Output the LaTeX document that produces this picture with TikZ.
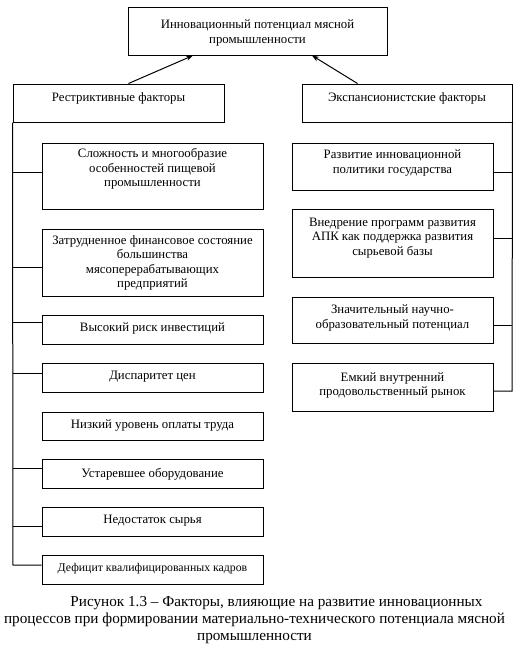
\documentclass[tikz,border=0pt]{standalone}
\usepackage{fontspec}
\setmainfont{Liberation Serif}
\usetikzlibrary{arrows.meta,calc}
\begin{document}
\begin{tikzpicture}[x=1pt,y=-1pt,
  box/.style={draw=black,line width=1pt,inner sep=0pt,rectangle},
  txt/.style={align=center,inner sep=0pt,font=\fontsize{12.8}{14.4}\selectfont},
  link/.style={draw=black,line width=1pt},
  arr/.style={draw=black,line width=1pt,-{Stealth[length=7pt,width=5pt]}}]
\useasboundingbox (0,0) rectangle (521,649);
% top
\node[box,minimum width=259,minimum height=48] (top) at (257.5,31) {};
\node[txt] (topt) at (257.5,33) {Инновационный потенциал мясной\\промышленности};
% second level
\node[box,minimum width=211,minimum height=38] (restr) at (118.5,103) {};
\node[txt] (restrt) at (118.5,98) {Рестриктивные факторы};
\node[box,minimum width=210,minimum height=38] (expan) at (407,103) {};
\node[txt] (expant) at (407,98) {Экспансионистские факторы};
% left column
\node[box,minimum width=221,minimum height=66] (l1) at (152.5,176) {};
\node[txt] (l1t) at (152.5,169) {Сложность и многообразие\\особенностей пищевой\\промышленности};
\node[box,minimum width=221,minimum height=67] (l2) at (152.5,262.5) {};
\node[txt] (l2t) at (152.5,263) {Затрудненное финансовое состояние\\большинства\\мясоперерабатывающих\\предприятий};
\node[box,minimum width=221,minimum height=29] (l3) at (152.5,329.5) {};
\node[txt] (l3t) at (152.5,328) {Высокий риск инвестиций};
\node[box,minimum width=221,minimum height=29] (l4) at (152.5,377.5) {};
\node[txt] (l4t) at (152.5,377) {Диспаритет цен};
\node[box,minimum width=221,minimum height=28] (l5) at (152.5,426) {};
\node[txt] (l5t) at (152.5,425) {Низкий уровень оплаты труда};
\node[box,minimum width=221,minimum height=29] (l6) at (152.5,473.5) {};
\node[txt] (l6t) at (152.5,474) {Устаревшее оборудование};
\node[box,minimum width=221,minimum height=29] (l7) at (152.5,521.5) {};
\node[txt] (l7t) at (152.5,521) {Недостаток сырья};
\node[box,minimum width=221,minimum height=29] (l8) at (152.5,569.5) {};
\node[txt,font=\fontsize{11.8}{13}\selectfont] (l8t) at (152.5,569) {Дефицит квалифицированных кадров};
% right column
\node[box,minimum width=201,minimum height=47] (r1) at (392.5,166.5) {};
\node[txt] (r1t) at (392.5,163) {Развитие инновационной\\политики государства};
\node[box,minimum width=201,minimum height=68] (r2) at (392.5,243) {};
\node[txt] (r2t) at (392.5,238) {Внедрение программ развития\\АПК как поддержка развития\\сырьевой базы};
\node[box,minimum width=201,minimum height=46] (r3) at (392.5,320) {};
\node[txt] (r3t) at (392.5,318) {Значительный научно-\\образовательный потенциал};
\node[box,minimum width=201,minimum height=48] (r4) at (392.5,387) {};
\node[txt] (r4t) at (392.5,385.5) {Емкий внутренний\\продовольственный рынок};
% arrows
\coordinate (ra) at ($(restr.north west)+(116,0)$);
\coordinate (ea) at ($(expan.north west)+(56,0)$);
\draw[arr] (ra) -- (top.south west -| 193,0);
\draw[arr] (ea) -- (top.south west -| 312,0);
% left spine
\coordinate (ls) at (restr.south west);
\coordinate (le) at (13,565);
\draw[link] (ls) -- (le) -- (l8.west |- le);
\foreach \n/\yy in {l1/172,l2/267,l3/322,l4/373,l6/468,l7/526}{
  \draw[link] (13,\yy) -- (\n.west |- 0,\yy);
}
% right spine
\coordinate (rs) at (expan.south east);
\coordinate (re) at (512,391);
\draw[link] (rs) -- (re) -- (r4.east |- re);
\foreach \n/\yy in {r1/172,r2/238,r3/325}{
  \draw[link] (512,\yy) -- (\n.east |- 0,\yy);
}
% caption
\node[align=center,inner sep=0pt,font=\fontsize{15.2}{17}\selectfont] (cap) at (254.5,620)
 {\hspace*{44pt}Рисунок 1.3 – Факторы, влияющие на развитие инновационных\\процессов при формировании материально-технического потенциала мясной\\промышленности};
\end{tikzpicture}
\end{document}
